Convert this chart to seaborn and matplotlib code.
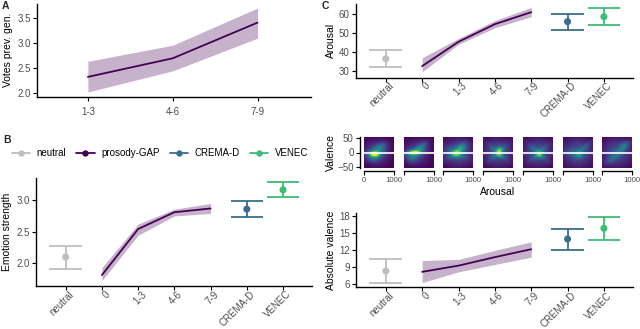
import numpy as np
import pandas as pd
import matplotlib
matplotlib.use("Agg")
import matplotlib.pyplot as plt
import matplotlib.transforms as mtransforms
import seaborn as sns
from matplotlib.lines import Line2D
from matplotlib.ticker import FormatStrFormatter

sns.set_theme(style="ticks")
plt.rcParams['font.family'] = ['Liberation Sans', 'DejaVu Sans']

# ---------------- data ----------------
cats_a = ["1-3", "4-6", "7-9"]
votes_mean = [2.33, 2.70, 3.41]
votes_lo = [2.03, 2.45, 3.10]
votes_hi = [2.64, 2.96, 3.70]

all_cats = ["neutral", "0", "1-3", "4-6", "7-9", "CREMA-D", "VENEC"]
gap_cats = ["0", "1-3", "4-6", "7-9"]
ref_cats = ["neutral", "CREMA-D", "VENEC"]

emo_gap_mean = [1.80, 2.54, 2.81, 2.87]
emo_gap_lo = [1.71, 2.44, 2.75, 2.79]
emo_gap_hi = [1.92, 2.62, 2.86, 2.95]
emo_ref_mean = [2.09, 2.86, 3.17]
emo_ref_lo = [1.90, 2.73, 3.06]
emo_ref_hi = [2.27, 2.99, 3.29]

aro_gap_mean = [32.6, 45.4, 54.7, 61.0]
aro_gap_lo = [29.6, 44.1, 52.8, 58.6]
aro_gap_hi = [37.0, 47.2, 56.6, 63.5]
aro_ref_mean = [36.5, 56.0, 58.6]
aro_ref_lo = [32.0, 51.7, 54.0]
aro_ref_hi = [41.1, 60.0, 63.2]

val_gap_mean = [8.2, 9.3, 10.8, 12.2]
val_gap_lo = [6.3, 8.2, 9.5, 10.8]
val_gap_hi = [10.2, 10.4, 12.0, 13.5]
val_ref_mean = [8.35, 14.0, 15.9]
val_ref_lo = [6.3, 12.1, 13.8]
val_ref_hi = [10.5, 15.8, 17.9]

legend_labels = ["neutral", "prosody-GAP", "CREMA-D", "VENEC"]
colors = {"neutral": "#BEBEBE", "prosody-GAP": "#440154",
          "CREMA-D": "#3A6E8F", "VENEC": "#3DBC74"}

# 2D density blobs per condition (normalised arousal, normalised valence,
# spread x, spread y, angle deg, amplitude)
density_panels = ["neutral", "0", "1-3", "4-6", "7-9", "CREMA-D", "VENEC"]
density_blobs = [
    [(0.35, 0.45, 0.10, 0.05, 0, 0.65), (0.35, 0.46, 0.20, 0.09, 0, 0.35),
     (0.55, 0.68, 0.18, 0.10, 20, 0.25), (0.30, 0.32, 0.16, 0.10, 0, 0.20),
     (0.42, 0.50, 0.28, 0.26, 0, 0.22)],
    [(0.33, 0.50, 0.14, 0.04, 0, 0.65), (0.35, 0.50, 0.22, 0.09, 10, 0.30),
     (0.60, 0.70, 0.18, 0.09, 35, 0.25), (0.25, 0.30, 0.14, 0.10, 0, 0.20),
     (0.42, 0.50, 0.28, 0.26, 0, 0.22)],
    [(0.45, 0.45, 0.12, 0.08, 0, 0.28), (0.60, 0.68, 0.15, 0.08, 35, 0.25),
     (0.45, 0.50, 0.30, 0.08, 30, 0.18), (0.40, 0.50, 0.30, 0.08, -25, 0.15),
     (0.50, 0.50, 0.32, 0.28, 0, 0.30)],
    [(0.55, 0.58, 0.07, 0.08, 0, 0.35), (0.55, 0.42, 0.07, 0.06, 0, 0.25),
     (0.52, 0.50, 0.30, 0.06, 40, 0.18), (0.50, 0.50, 0.28, 0.06, -40, 0.16),
     (0.50, 0.50, 0.32, 0.28, 0, 0.30)],
    [(0.55, 0.42, 0.08, 0.07, 0, 0.32), (0.55, 0.50, 0.30, 0.06, 40, 0.16),
     (0.50, 0.50, 0.30, 0.06, -40, 0.16), (0.50, 0.50, 0.32, 0.28, 0, 0.30)],
    [(0.55, 0.42, 0.10, 0.08, 0, 0.22), (0.70, 0.65, 0.25, 0.06, 40, 0.15),
     (0.30, 0.50, 0.20, 0.08, -10, 0.12), (0.50, 0.50, 0.34, 0.30, 0, 0.28)],
    [(0.60, 0.55, 0.35, 0.08, 40, 0.18), (0.75, 0.75, 0.10, 0.08, 30, 0.18),
     (0.30, 0.25, 0.15, 0.08, 20, 0.10), (0.50, 0.50, 0.34, 0.30, 0, 0.26)],
]

# ---------------- layout helpers ----------------
W, H = 640, 329
fig = plt.figure(figsize=(6.4, 3.29), dpi=100)
TICK_C = "#4D4D4D"
FS_TICK = 7
FS_LAB = 7.5


def ax_px(l, t, r, b):
    return fig.add_axes([l / W, 1 - b / H, (r - l) / W, (b - t) / H])


def style(ax):
    sns.despine(ax=ax)
    for s in ("left", "bottom"):
        ax.spines[s].set_linewidth(1.0)
        ax.spines[s].set_color("black")
    ax.tick_params(length=3, width=0.8, color="black", labelsize=FS_TICK,
                   labelcolor=TICK_C, pad=1.5)
    ax.set_facecolor("white")


def ylabel(ax, text, xpx, ypx):
    ax.set_ylabel(text, fontsize=FS_LAB, color="black")
    ax.yaxis.set_label_coords(xpx / W, 1 - ypx / H, transform=fig.transFigure)


def summary_panel(ax, gap_mean, gap_lo, gap_hi, ref_mean, ref_lo, ref_hi):
    pos = {c: i for i, c in enumerate(all_cats)}
    gx = [pos[c] for c in gap_cats]
    ax.fill_between(gx, gap_lo, gap_hi, color="#440154", alpha=0.3, lw=0)
    sns.lineplot(x=gx, y=gap_mean, color="#440154", lw=1.3, ax=ax)
    for c, m, lo, hi in zip(ref_cats, ref_mean, ref_lo, ref_hi):
        x = pos[c]
        col = colors[c]
        ax.vlines(x, lo, hi, color=col, lw=1.3)
        ax.hlines([lo, hi], x - 0.45, x + 0.45, color=col, lw=1.3)
        sns.scatterplot(x=[x], y=[m], color=col, s=26, edgecolor="none",
                        ax=ax, zorder=3)
    ax.set_xlim(-0.82, 6.8)
    ax.set_xticks(range(len(all_cats)))
    ax.set_xticklabels(all_cats, rotation=45, ha="right",
                       rotation_mode="anchor")
    style(ax)
    ax.tick_params(axis="x", pad=0.3)
    off = mtransforms.ScaledTranslation(3 / 100, 1.5 / 100,
                                        fig.dpi_scale_trans)
    for lab in ax.get_xticklabels():
        lab.set_transform(lab.get_transform() + off)


# ---------------- Panel A ----------------
axA = ax_px(37, 4, 311, 97)
xa = list(range(len(cats_a)))
axA.fill_between(xa, votes_lo, votes_hi, color="#440154", alpha=0.3, lw=0)
sns.lineplot(x=xa, y=votes_mean, color="#440154", lw=1.3, ax=axA)
axA.set_xlim(-0.6, 2.63)
axA.set_ylim(1.93, 3.78)
axA.set_xticks(xa)
axA.set_xticklabels(cats_a)
axA.set_yticks([2.0, 2.5, 3.0, 3.5])
axA.yaxis.set_major_formatter(FormatStrFormatter("%.1f"))
style(axA)
axA.tick_params(axis="x", pad=4)
ylabel(axA, "Votes prev. gen.", 13.5, 50)

# ---------------- Panel B ----------------
axB = ax_px(36, 178, 312, 286)
summary_panel(axB, emo_gap_mean, emo_gap_lo, emo_gap_hi,
              emo_ref_mean, emo_ref_lo, emo_ref_hi)
axB.set_ylim(1.624, 3.36)
axB.set_yticks([2.0, 2.5, 3.0])
axB.yaxis.set_major_formatter(FormatStrFormatter("%.1f"))
ylabel(axB, "Emotion strength", 12.5, 232)

handles = [Line2D([0], [0], color=colors[k], lw=1.3, marker="o",
                  markersize=4.6, markeredgewidth=0) for k in legend_labels]
fig.legend(handles, legend_labels, loc="center",
           bbox_to_anchor=(160 / W, 1 - 153 / H), ncol=4, frameon=False,
           fontsize=7, handlelength=1.9, handletextpad=0.7,
           columnspacing=1.0, labelcolor="black")

# ---------------- Panel C top ----------------
axC1 = ax_px(356, 4, 633, 77.7)
summary_panel(axC1, aro_gap_mean, aro_gap_lo, aro_gap_hi,
              aro_ref_mean, aro_ref_lo, aro_ref_hi)
axC1.set_ylim(26.5, 65.3)
axC1.set_yticks([30, 40, 50, 60])
ylabel(axC1, "Arousal", 336, 40)

# ---------------- Panel C middle: density heatmaps ----------------
gx = np.linspace(0, 1, 32)
gy = np.linspace(0, 1, 32)
U, V = np.meshgrid(gx, gy)
for i, (name, blobs) in enumerate(zip(density_panels, density_blobs)):
    l = 364 + i * 39.7
    ax = ax_px(l, 137, l + 30, 168)
    Z = np.zeros_like(U)
    for cx, cy, sx, sy, ang, amp in blobs:
        a = np.deg2rad(ang)
        du, dv = U - cx, V - cy
        r1 = du * np.cos(a) + dv * np.sin(a)
        r2 = -du * np.sin(a) + dv * np.cos(a)
        Z += amp * np.exp(-0.5 * ((r1 / sx) ** 2 + (r2 / sy) ** 2))
    ax.imshow(Z, extent=[0, 1000, -55, 55], origin="lower", aspect="auto",
              cmap="viridis", vmin=0, vmax=1, interpolation="bilinear")
    ax.axhline(0, color="white", lw=1.2)
    ax.set_xlim(0, 1000)
    ax.set_ylim(-55, 55)
    sns.despine(ax=ax, left=(i != 0))
    ax.spines["bottom"].set_bounds(0, 1000)
    ax.spines["bottom"].set_position(("outward", 2))
    ax.spines["bottom"].set_linewidth(1.0)
    ax.spines["bottom"].set_color("black")
    ax.set_xticks([0, 1000])
    ax.set_xticklabels(["0" if i == 0 else "", "1000"])
    ax.tick_params(axis="x", length=3, width=0.8, color="black",
                   labelsize=5.6, labelcolor=TICK_C, pad=1.5)
    if i == 0:
        ax.spines["left"].set_position(("outward", 3))
        ax.spines["left"].set_linewidth(1.0)
        ax.spines["left"].set_color("black")
        ax.set_yticks([-50, 0, 50])
        ax.tick_params(axis="y", length=3, width=0.8, color="black",
                       labelsize=FS_TICK, labelcolor=TICK_C, pad=1.5)
        ylabel(ax, "Valence", 336, 153)
    else:
        ax.set_yticks([])
fig.text(498 / W, 1 - 192 / H, "Arousal", ha="center", va="center",
         fontsize=FS_LAB, color="black")

# ---------------- Panel C bottom ----------------
axC2 = ax_px(356, 213, 633, 287.3)
summary_panel(axC2, val_gap_mean, val_gap_lo, val_gap_hi,
              val_ref_mean, val_ref_lo, val_ref_hi)
axC2.set_ylim(5.47, 18.6)
axC2.set_yticks([6, 9, 12, 15, 18])
ylabel(axC2, "Absolute valence", 336, 250)

# ---------------- panel letters ----------------
for txt, x, y in [("A", 2, 6), ("B", 3, 140), ("C", 322, 6)]:
    fig.text(x / W, 1 - y / H, txt, fontsize=7.5, fontweight="bold",
             ha="left", va="center")

fig.savefig("out.png", dpi=100)
